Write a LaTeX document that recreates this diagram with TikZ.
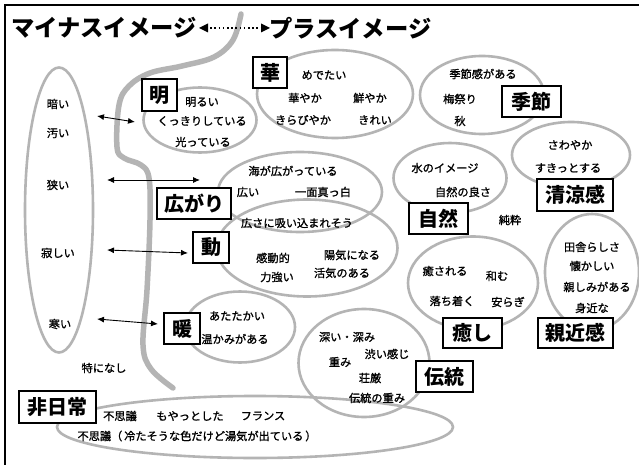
\documentclass[tikz,border=0pt]{standalone}
\usepackage{fontspec}
\setmainfont{Noto Sans CJK JP}
\newfontfamily\jpsmall{Noto Sans CJK JP}[FakeBold=1.2]
\usetikzlibrary{shapes.geometric,arrows.meta}
\definecolor{ringgray}{RGB}{180,180,180}
\tikzset{
  ell/.style={draw=ringgray, line width=2.6pt, ellipse, inner sep=0pt},
  lbl/.style={draw=black, line width=1.1pt, fill=white, inner sep=0pt, font=\fontsize{20}{22}\selectfont\bfseries},
  txt/.style={inner sep=0pt, font=\jpsmall\fontsize{11.2}{13}\selectfont},
  dbl/.style={line width=0.9pt, {Latex[length=7pt,width=6pt]}-{Latex[length=7pt,width=6pt]}},
  river/.style={draw=ringgray, line width=5.5pt, line cap=round, line join=round},
  ttl/.style={inner sep=0pt, font=\fontsize{23.3}{26}\selectfont\bfseries}
}
\begin{document}
\begin{tikzpicture}[x=1pt,y=-1pt]
\useasboundingbox (0,0) rectangle (639,465);
\fill[white] (0,0) rectangle (639,465);
% frame
\coordinate (fa) at (5,465);
\coordinate (fb) at (5,5);
\coordinate (fc) at (639,5);
\draw[line width=1.8pt] (fa) -- (fb) -- (fc);

% ellipses
\node[ell, minimum width=68pt, minimum height=285pt] (eL) at (59,210) {};
\node[ell, minimum width=113pt, minimum height=65pt] (eMei) at (200,120) {};
\node[ell, minimum width=156pt, minimum height=88pt] (eHana) at (335,94) {};
\node[ell, minimum width=124pt, minimum height=78pt] (eKisetsu) at (482,95) {};
\node[ell, minimum width=118pt, minimum height=66pt] (eSeiryo) at (571,155) {};
\node[ell, minimum width=113pt, minimum height=70pt] (eShizen) at (450,178) {};
\node[ell, minimum width=164pt, minimum height=80pt] (eHiro) at (300,192) {};
\node[ell, minimum width=181pt, minimum height=97pt] (eDo) at (307,248) {};
\node[ell, minimum width=110pt, minimum height=71pt] (eDan) at (240,327) {};
\node[ell, minimum width=130pt, minimum height=93pt] (eIyashi) at (473,283) {};
\node[ell, minimum width=94pt, minimum height=116pt] (eShin) at (592,272) {};
\node[ell, minimum width=131pt, minimum height=108pt] (eDento) at (364,363) {};
\node[ell, minimum width=396pt, minimum height=62pt] (eHi) at (255,427) {};

% river
\draw[river] plot[smooth, tension=0.6] coordinates {(241,14) (233,40) (214,57) (182,66) (150,73) (129,86) (119,105) (117,147) (124,158) (141,165) (149,178) (150,220) (147,290) (143,345) (151,369) (173,388)};

% title
\node[ttl, anchor=west] (tMinus) at (11,28) {マイナスイメージ};
\node[ttl, anchor=west] (tPlus) at (269,28) {プラスイメージ};
\coordinate (ta) at (199,28);
\coordinate (tb) at (270,28);
\coordinate (tai) at (206,28);
\coordinate (tbi) at (263,28);
\draw[line width=1.6pt, dash pattern=on 1.6pt off 2.6pt] (tai) -- (tbi);
\fill (ta) -- (208,23.5) -- (208,32.5) -- cycle;
\fill (tb) -- (261,23.5) -- (261,32.5) -- cycle;

% arrows
\coordinate (a1) at (97,116); \coordinate (b1) at (135,122);
\coordinate (a2) at (107,180); \coordinate (b2) at (200,180);
\coordinate (a3) at (107,250); \coordinate (b3) at (188,253);
\coordinate (a4) at (97,319); \coordinate (b4) at (158,324);
\draw[dbl] (a1) -- (b1);
\draw[dbl] (a2) -- (b2);
\draw[dbl] (a3) -- (b3);
\draw[dbl] (a4) -- (b4);

% label boxes
\node[lbl, minimum width=35pt, minimum height=32pt] (bMei) at (159.5,95) {明};
\node[lbl, minimum width=34pt, minimum height=31pt] (bHana) at (270,72.5) {華};
\node[lbl, minimum width=59pt, minimum height=31pt] (bKisetsu) at (531.5,101.5) {季節};
\node[lbl, minimum width=76pt, minimum height=32pt] (bSeiryo) at (575,195) {清涼感};
\node[lbl, minimum width=59pt, minimum height=31pt] (bShizen) at (438.5,218.5) {自然};
\node[lbl, minimum width=74pt, minimum height=31pt] (bHiro) at (194,203.5) {広がり};
\node[lbl, minimum width=36pt, minimum height=31pt] (bDo) at (211,247.5) {動};
\node[lbl, minimum width=36pt, minimum height=31pt] (bDan) at (182,328.5) {暖};
\node[lbl, minimum width=77pt, minimum height=32pt] (bHi) at (57.5,407) {非日常};
\node[lbl, minimum width=59pt, minimum height=30pt] (bIyashi) at (472.5,333) {癒し};
\node[lbl, minimum width=75pt, minimum height=30pt] (bShin) at (575.5,333) {親近感};
\node[lbl, minimum width=57pt, minimum height=31pt] (bDento) at (444.5,376.5) {伝統};

% left texts
\node[txt] (l1) at (58,104) {暗い};
\node[txt] (l2) at (58,133) {汚い};
\node[txt] (l3) at (58,185) {狭い};
\node[txt] (l4) at (58,253) {寂しい};
\node[txt] (l5) at (60,324) {寒い};
\node[txt] (l6) at (104,368) {特になし};

% 明
\node[txt] (m1) at (202,102) {明るい};
\node[txt] (m2) at (202,121) {くっきりしている};
\node[txt] (m3) at (203,142) {光っている};

% 華
\node[txt] (h1) at (324,75) {めでたい};
\node[txt] (h2) at (305,98) {華やか};
\node[txt] (h3) at (370,98) {鮮やか};
\node[txt] (h4) at (303,120) {きらびやか};
\node[txt] (h5) at (375,120) {きれい};

% 季節
\node[txt] (k1) at (483,74) {季節感がある};
\node[txt] (k2) at (460,99) {梅祭り};
\node[txt] (k3) at (460,121) {秋};

% 清涼感
\node[txt] (s1) at (570,145) {さわやか};
\node[txt] (s2) at (568,168) {すきっとする};

% 自然
\node[txt] (n1) at (445,168) {水のイメージ};
\node[txt] (n2) at (463,192) {自然の良さ};
\node[txt] (n3) at (510,220) {純粋};

% 広がり
\node[txt] (r1) at (293,171) {海が広がっている};
\node[txt] (r2) at (248,192) {広い};
\node[txt] (r3) at (323,192) {一面真っ白};
\node[txt] (r4) at (297,223) {広さに吸い込まれそう};

% 動
\node[txt] (d1) at (273,258) {感動的};
\node[txt] (d2) at (352,255) {陽気になる};
\node[txt] (d3) at (277,277) {力強い};
\node[txt] (d4) at (342,273) {活気のある};

% 暖
\node[txt] (w1) at (237,316) {あたたかい};
\node[txt] (w2) at (235,339) {温かみがある};

% 癒し
\node[txt] (i1) at (445,271) {癒される};
\node[txt] (i2) at (497,276) {和む};
\node[txt] (i3) at (452,301) {落ち着く};
\node[txt] (i4) at (508,302) {安らぎ};

% 親近感
\node[txt] (c1) at (592,247) {田舎らしさ};
\node[txt] (c2) at (592,266) {懐かしい};
\node[txt] (c3) at (597,287) {親しみがある};
\node[txt] (c4) at (592,308) {身近な};

% 伝統
\node[txt] (e1) at (347,337) {深い・深み};
\node[txt] (e2) at (340,362) {重み};
\node[txt] (e3) at (387,354) {渋い感じ};
\node[txt] (e4) at (370,378) {荘厳};
\node[txt] (e5) at (377,398) {伝統の重み};

% 非日常
\node[txt] (u1) at (120,416) {不思議};
\node[txt] (u2) at (190,416) {もやっとした};
\node[txt] (u3) at (263,416) {フランス};
\node[txt] (u4) at (197,436) {不思議（\,冷たそうな色だけど湯気が出ている\,）};
\end{tikzpicture}
\end{document}
